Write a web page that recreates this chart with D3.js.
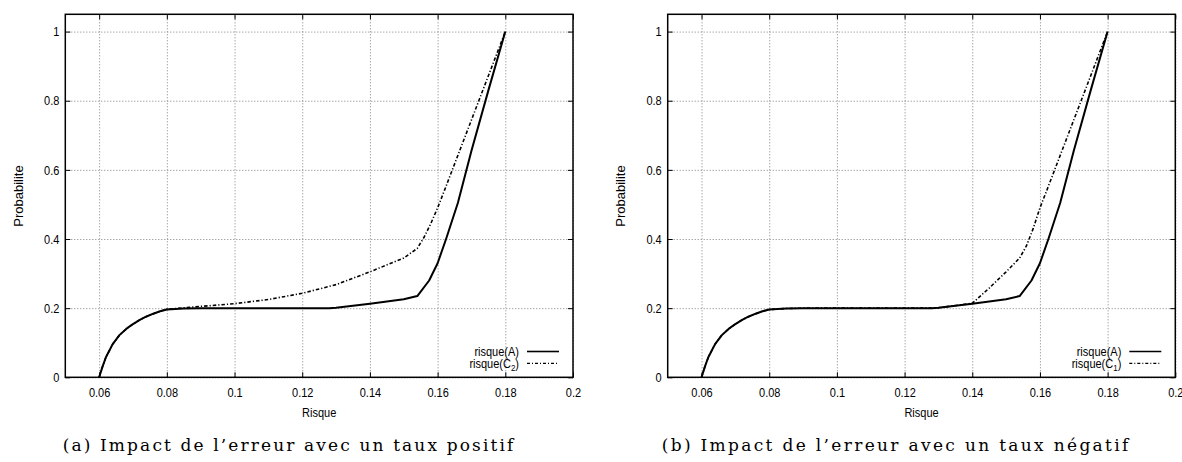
<!DOCTYPE html>
<html><head><meta charset="utf-8">
<script src="https://cdn.jsdelivr.net/npm/d3@7"></script>
<style>body{margin:0;background:#fff}svg{display:block}</style>
</head><body>
<svg id="c" width="1182" height="462"></svg>
<script>
// ---- data ----
const xTicks = [0.06, 0.08, 0.1, 0.12, 0.14, 0.16, 0.18, 0.2];
const xTickLabels = ["0.06", "0.08", "0.1", "0.12", "0.14", "0.16", "0.18", "0.2"];
const yTicks = [0, 0.2, 0.4, 0.6, 0.8, 1];
const yTickLabels = ["0", "0.2", "0.4", "0.6", "0.8", "1"];

const riskA = [0.06,0.061,0.062,0.064,0.066,0.068,0.07,0.072,0.074,0.076,0.078,0.08,0.085,0.09,0.1,0.11,0.12,0.128,0.13,0.14,0.15,0.154,0.1575,0.16,0.1625,0.166,0.17,0.175,0.18];
const probA = [0,0.031,0.058,0.096,0.122,0.14,0.154,0.166,0.176,0.184,0.191,0.196,0.199,0.2,0.2,0.2,0.2,0.2,0.201,0.213,0.226,0.235,0.28,0.33,0.40,0.505,0.655,0.83,1.0];

const riskC2 = [0.06,0.061,0.062,0.064,0.066,0.068,0.07,0.072,0.074,0.076,0.078,0.08,0.085,0.09,0.1,0.11,0.12,0.13,0.14,0.15,0.154,0.156,0.158,0.16,0.162,0.18];
const probC2 = [0,0.031,0.058,0.096,0.122,0.14,0.154,0.166,0.176,0.184,0.191,0.197,0.201,0.205,0.213,0.225,0.243,0.268,0.305,0.345,0.373,0.405,0.445,0.49,0.54,1.0];

const riskC1 = [0.06,0.061,0.062,0.064,0.066,0.068,0.07,0.072,0.074,0.076,0.078,0.08,0.085,0.09,0.1,0.11,0.12,0.128,0.13,0.14,0.145,0.15,0.154,0.156,0.158,0.16,0.162,0.18];
const probC1 = [0,0.031,0.058,0.096,0.122,0.14,0.154,0.166,0.176,0.184,0.191,0.196,0.199,0.2,0.2,0.2,0.2,0.2,0.201,0.214,0.258,0.305,0.345,0.38,0.43,0.49,0.54,1.0];

const xLabel = "Risque";
const yLabel = "Probabilite";
const legendA = "risque(A)";
const captions = ["(a) Impact de l\u2019erreur avec un taux positif", "(b) Impact de l\u2019erreur avec un taux n\u00e9gatif"];

// ---- layout ----
const svg = d3.select("#c");
const SX = 0.88;            // horizontal condensation of sans text
const FS = 12.5;
const plotTop = 14.3, plotBottom = 377.3;

const panels = [
  {left: 65.3, right: 573, rx: riskC2, ry: probC2, sub: "2", cap: captions[0], capX: 62.7, capW: 450.6},
  {left: 667.7, right: 1175.3, rx: riskC1, ry: probC1, sub: "1", cap: captions[1], capX: 661.7, capW: 466.6}
];

function condense(sel) {
  sel.each(function() {
    const t = d3.select(this);
    const x = +t.attr("x") || 0;
    t.attr("x", x / SX).attr("transform", `scale(${SX},1)`);
  });
}

panels.forEach(p => {
  const x = d3.scaleLinear().domain([0.05, 0.2]).range([p.left, p.right]);
  const y = d3.scaleLinear().domain([0, 1.05]).range([plotBottom, plotTop]);
  const g = svg.append("g");
  const W = p.right - p.left, H = plotBottom - plotTop;

  // grid
  const gx = g.append("g").attr("transform", `translate(0,${plotBottom})`)
    .call(d3.axisBottom(x).tickValues(xTicks).tickSize(-H).tickFormat(""));
  const gy = g.append("g").attr("transform", `translate(${p.left},0)`)
    .call(d3.axisLeft(y).tickValues(yTicks).tickSize(-W).tickFormat(""));
  [gx, gy].forEach(a => {
    a.select(".domain").remove();
    a.selectAll("line").attr("stroke", "#808080").attr("stroke-width", 1).attr("stroke-dasharray", "1,2");
  });

  // tick marks (inward, mirrored)
  const tb = g.append("g").attr("transform", `translate(0,${plotBottom})`)
    .call(d3.axisBottom(x).tickValues(xTicks).tickSize(-5).tickFormat((d, i) => xTickLabels[i]));
  const tt = g.append("g").attr("transform", `translate(0,${plotTop})`)
    .call(d3.axisTop(x).tickValues(xTicks).tickSize(-5).tickFormat(""));
  const tl = g.append("g").attr("transform", `translate(${p.left},0)`)
    .call(d3.axisLeft(y).tickValues(yTicks).tickSize(-5).tickFormat((d, i) => yTickLabels[i]));
  const tr = g.append("g").attr("transform", `translate(${p.right},0)`)
    .call(d3.axisRight(y).tickValues(yTicks).tickSize(-5).tickFormat(""));
  [tb, tt, tl, tr].forEach(a => {
    a.select(".domain").remove();
    a.selectAll("line").attr("stroke", "#000").attr("stroke-width", 1);
    a.selectAll("text").attr("font-family", "Liberation Sans, Arial, sans-serif").attr("font-size", FS).attr("fill", "#000");
  });
  tb.selectAll("text").attr("y", 11).attr("dy", "0.71em");
  tl.selectAll("text").attr("x", -6).attr("dy", "0.34em");
  condense(tb.selectAll("text"));
  condense(tl.selectAll("text"));

  // curves
  const lineLin = d3.line().x(d => x(d[0])).y(d => y(d[1]));
  g.append("path").datum(p.rx.map((v, i) => [v, p.ry[i]]))
    .attr("d", lineLin).attr("fill", "none").attr("stroke", "#000")
    .attr("stroke-width", 1.6).attr("stroke-dasharray", "3.5,2,1.2,2");
  g.append("path").datum(riskA.map((v, i) => [v, probA[i]]))
    .attr("d", lineLin).attr("fill", "none").attr("stroke", "#000")
    .attr("stroke-width", 2).attr("stroke-linejoin", "round");

  // frame
  g.append("rect").attr("x", p.left).attr("y", plotTop).attr("width", W).attr("height", H)
    .attr("fill", "none").attr("stroke", "#000").attr("stroke-width", 1.5);

  // axis titles
  g.append("text").attr("transform", `translate(${(p.left + p.right) / 2},${416.5}) scale(${SX},1)`)
    .attr("text-anchor", "middle").attr("font-family", "Liberation Sans, Arial, sans-serif")
    .attr("font-size", FS).text(xLabel);
  g.append("text").attr("transform", `translate(${p.left - 42.5},${196}) rotate(-90)`)
    .attr("text-anchor", "middle").attr("font-family", "Liberation Sans, Arial, sans-serif")
    .attr("font-size", 13).text(yLabel);

  // legend
  const lx = p.right - 54, ly1 = 351.5, ly2 = 363.3;
  g.append("text").attr("transform", `translate(${lx},${ly1 + 4.4}) scale(${SX},1)`)
    .attr("text-anchor", "end").attr("font-family", "Liberation Sans, Arial, sans-serif")
    .attr("font-size", FS).text(legendA);
  const t2 = g.append("text").attr("transform", `translate(${lx},${ly2 + 4.4}) scale(${SX},1)`)
    .attr("text-anchor", "end").attr("font-family", "Liberation Sans, Arial, sans-serif")
    .attr("font-size", FS);
  t2.append("tspan").text("risque(C");
  t2.append("tspan").attr("dy", 3).attr("font-size", 9).text(p.sub);
  t2.append("tspan").attr("dy", -3).text(")");
  g.append("line").attr("x1", p.right - 46).attr("x2", p.right - 14).attr("y1", ly1).attr("y2", ly1)
    .attr("stroke", "#000").attr("stroke-width", 1.6);
  g.append("line").attr("x1", p.right - 46).attr("x2", p.right - 14).attr("y1", ly2).attr("y2", ly2)
    .attr("stroke", "#000").attr("stroke-width", 1.2).attr("stroke-dasharray", "3,2,1,2");

  // caption
  g.append("text").attr("x", p.capX).attr("y", 451)
    .attr("font-family", "'DejaVu Serif', 'Liberation Serif', serif").attr("font-size", 17)
    .attr("textLength", p.capW).attr("lengthAdjust", "spacing").text(p.cap);
});
</script>
</body></html>
